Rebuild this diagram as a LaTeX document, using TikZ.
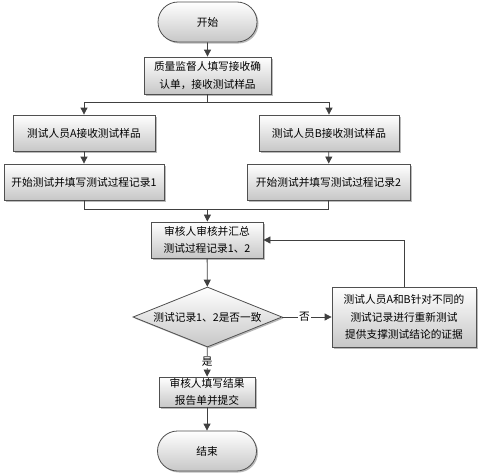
\documentclass[tikz,border=0pt]{standalone}
\usepackage{fontspec}
\setmainfont{Liberation Serif}
\newfontfamily\cjk{Noto Sans CJK SC}
\usetikzlibrary{shapes.geometric,shapes.misc,arrows.meta,shadows}
\definecolor{edge}{HTML}{404040}
\definecolor{bord}{HTML}{505050}
\tikzset{
  every node/.style={font=\cjk\fontsize{10.7}{17.5}\selectfont, text=black},
  base/.style={draw=bord, line width=0.8pt, top color=white, bottom color=black!22,
     drop shadow={shadow xshift=1.5pt, shadow yshift=-1.5pt, fill=black!45, opacity=0.6},
     inner sep=0pt, align=center},
  proc/.style={base, rectangle, minimum width=#1, minimum height=36pt},
  term/.style={base, rounded rectangle, minimum width=99pt, minimum height=40pt},
  dec/.style={base, diamond, aspect=2.5, minimum width=149pt, minimum height=60pt},
  conn/.style={draw=edge, line width=0.8pt, -{Triangle[length=7pt,width=7pt]}},
  ln/.style={draw=edge, line width=0.8pt},
}
\begin{document}
\begin{tikzpicture}[x=1pt,y=-1pt]
\useasboundingbox (0,0) rectangle (478,474);
\node[term] (start) at (207.5,22) {开始};
\node[proc=127pt, minimum height=37pt] (recv) at (207.5,75.5) {质量监督人填写接收确\\认单，接收测试样品};
\node[proc=142pt] (a1) at (84,133) {测试人员A接收测试样品};
\node[proc=140pt] (b1) at (329,133) {测试人员B接收测试样品};
\node[proc=160pt] (a2) at (84,182) {开始测试并填写测试过程记录1};
\node[proc=163pt] (b2) at (328.5,182) {开始测试并填写测试过程记录2};
\node[proc=112pt] (rev) at (207,240) {审核人审核并汇总\\测试过程记录1、2};
\node[dec] (chk) at (207.5,317) {测试记录1、2是否一致};
\node[proc=144pt, minimum height=60pt] (redo) at (404,317) {测试人员A和B针对不同的\\测试记录进行重新测试\\提供支撑测试结论的证据};
\node[proc=96pt, minimum height=30pt] (rep) at (207,392) {审核人填写结果\\报告单并提交};
\node[term] (end) at (207,451) {结束};
\coordinate (split) at (207.5,102);
\coordinate (merge) at (207.5,209.5);
\draw[conn] (start) -- (recv);
\draw[ln] (recv) -- (split);
\draw[conn] (split) -| (a1);
\draw[conn] (split) -| (b1);
\draw[conn] (a1) -- (a2);
\draw[conn] (b1) -- (b2);
\draw[ln] (a2) |- (merge);
\draw[ln] (b2) |- (merge);
\draw[conn] (merge) -- (rev);
\draw[conn] (rev) -- (chk);
\draw[conn] (chk) -- node[fill=white, inner sep=1pt, pos=0.45] (no) {否} (redo);
\draw[conn] (redo.north) |- (rev.east);
\draw[conn] (chk) -- node[fill=white, inner sep=1pt, pos=0.5] (yes) {是} (rep);
\draw[conn] (rep) -- (end);
\end{tikzpicture}
\end{document}
